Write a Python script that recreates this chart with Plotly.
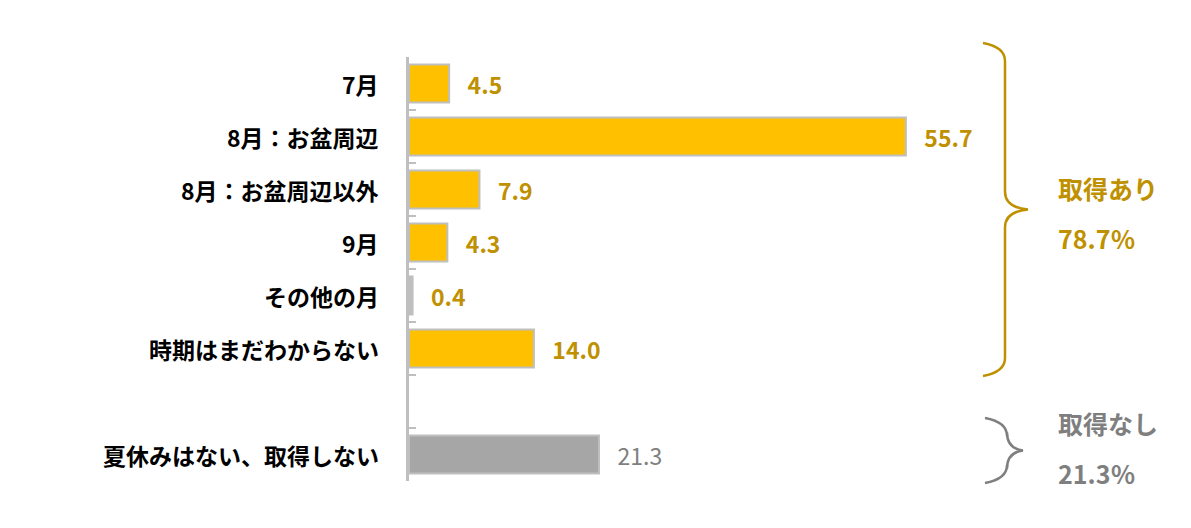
import plotly.graph_objects as go

categories = ["7月", "8月：お盆周辺", "8月：お盆周辺以外", "9月", "その他の月", "時期はまだわからない", "夏休みはない、取得しない"]
values = [4.5, 55.7, 7.9, 4.3, 0.4, 14.0, 21.3]
positions = [0, 1, 2, 3, 4, 5, 7]
bar_colors = ["#FFC000", "#FFC000", "#FFC000", "#FFC000", "#BFBFBF", "#FFC000", "#A6A6A6"]
value_colors = ["#BF9000"] * 6 + ["#7F7F7F"]

W, H = 1191, 528
L, T, B, R = 401, 49, 55, 5
GOLD = "#BF9000"
GRAY = "#7F7F7F"


def px(x, y):
    # pixel -> paper coordinates
    return (x - L) / (W - L - R), (H - B - y) / (H - T - B)


def brace(x0, y0, y1, tip, color):
    xm = x0 + 22
    ymid = (y0 + y1) / 2
    p = [px(x0, y0), px(xm, y0 + 4), px(xm, y0 + 18), px(xm, ymid - 18),
         px(xm, ymid - 2), px(tip, ymid), px(xm, ymid + 2), px(xm, ymid + 18),
         px(xm, y1 - 18), px(xm, y1 - 4), px(x0, y1)]
    d = (f"M{p[0][0]},{p[0][1]} Q{p[1][0]},{p[1][1]} {p[2][0]},{p[2][1]} "
         f"L{p[3][0]},{p[3][1]} Q{p[4][0]},{p[4][1]} {p[5][0]},{p[5][1]} "
         f"Q{p[6][0]},{p[6][1]} {p[7][0]},{p[7][1]} L{p[8][0]},{p[8][1]} "
         f"Q{p[9][0]},{p[9][1]} {p[10][0]},{p[10][1]}")
    return dict(type="path", xref="paper", yref="paper", path=d,
                line=dict(color=color, width=2.5))


labels = [f"   <b>{v:.1f}</b>" for v in values[:-1]] + [f"   {values[-1]:.1f}"]

fig = go.Figure(go.Bar(
    x=values, y=positions, orientation="h", width=0.72,
    marker=dict(color=bar_colors, line=dict(color="#BFBFBF", width=2)),
    text=labels, textposition="outside",
    textfont=dict(size=23, color=value_colors, family="Noto Sans CJK JP"),
    cliponaxis=False, hoverinfo="skip",
))

annotations = []
for c, p in zip(categories, positions):
    annotations.append(dict(x=0, xref="paper", y=p, yref="y", xanchor="right", xshift=-28,
                            text=f"<b>{c}</b>", showarrow=False,
                            font=dict(size=23, color="black", family="Noto Sans CJK JP")))
for txt, yy, col in [("取得あり", 180, GOLD), ("78.7％", 230, GOLD),
                     ("取得なし", 415, GRAY), ("21.3％", 465, GRAY)]:
    ax, ay = px(1048, yy)
    annotations.append(dict(x=ax, y=ay, xref="paper", yref="paper", xanchor="left",
                            yanchor="middle",
                            text=f"<b>{txt}</b>", showarrow=False,
                            font=dict(size=25, color=col, family="Noto Sans CJK JP")))

fig.update_layout(
    width=W, height=H, margin=dict(l=L, r=R, t=T, b=B, autoexpand=False),
    plot_bgcolor="white", paper_bgcolor="white", showlegend=False,
    uniformtext=dict(mode=False),
    xaxis=dict(range=[0, 88], visible=False, automargin=False),
    yaxis=dict(range=[7.5, -0.5], showgrid=False, zeroline=False, automargin=False,
               showline=True, linecolor="#BFBFBF", linewidth=3,
               ticks="inside", ticklen=7, tickwidth=2, tickcolor="#BFBFBF",
               tickvals=[i - 0.5 for i in range(9)], showticklabels=False),
    annotations=annotations,
    shapes=[brace(975, 35, 368, 1020, GOLD), brace(977, 410, 475, 1015, GRAY)],
)

fig.write_html("out.html")
